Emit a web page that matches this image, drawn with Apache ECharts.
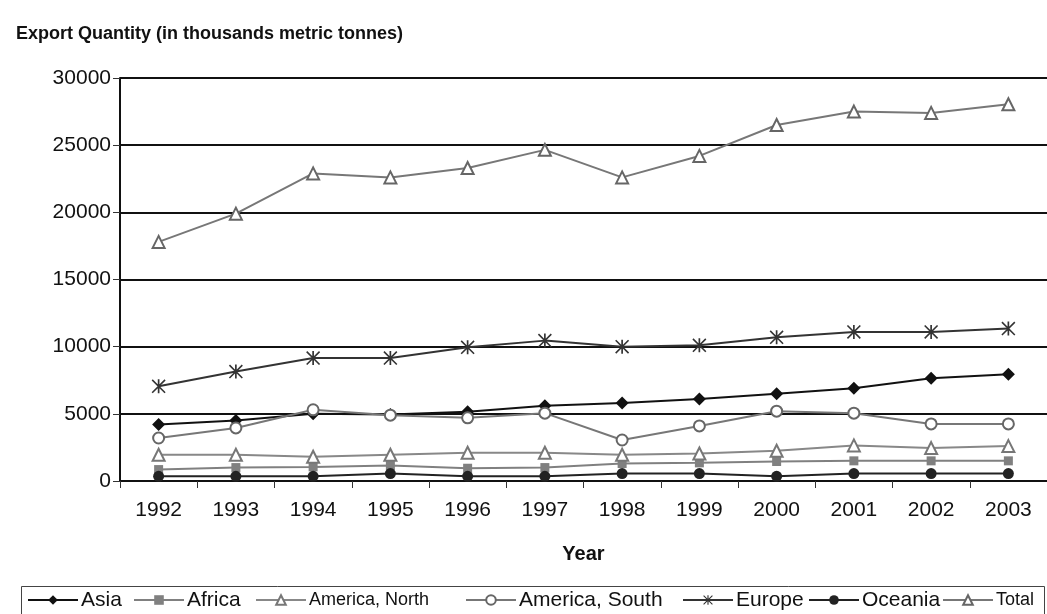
<!DOCTYPE html>
<html>
<head>
<meta charset="utf-8">
<script src="https://cdn.jsdelivr.net/npm/echarts@6/dist/echarts.min.js"></script>
<style>
  html, body { margin:0; padding:0; background:#fff; }
  #main { width:1047px; height:614px; }
</style>
</head>
<body>
<div id="main"></div>
<script>
// 年份（横轴）
var years = ['1992','1993','1994','1995','1996','1997','1998','1999','2000','2001','2002','2003'];

// 各地区出口量（千公吨）
var asia      = [4200, 4500, 5000, 4950, 5150, 5600, 5800, 6100, 6500, 6900, 7650, 7950];
var africa    = [850, 1000, 1050, 1150, 950, 1000, 1300, 1350, 1450, 1500, 1500, 1500];
var amNorth   = [1950, 1950, 1800, 1950, 2100, 2100, 1950, 2050, 2250, 2650, 2450, 2600];
var amSouth   = [3200, 3950, 5300, 4900, 4700, 5050, 3050, 4100, 5200, 5050, 4250, 4250];
var europe    = [7050, 8150, 9150, 9150, 9950, 10450, 10000, 10100, 10700, 11100, 11100, 11350];
var oceania   = [350, 350, 350, 550, 350, 350, 550, 550, 350, 550, 550, 550];
var total     = [17800, 19900, 22900, 22600, 23300, 24650, 22600, 24200, 26500, 27500, 27400, 28050];

var FONT = 'Liberation Sans, Arial, sans-serif';

// 星号标记（用细长多边形拼成）
var asterisk = 'path://M4.4 0 L5.6 0 L5.6 10 L4.4 10 Z M0 0.8 L0.8 0 L10 9.2 L9.2 10 Z M9.2 0 L10 0.8 L0.8 10 L0 9.2 Z';

// 每个图例单独放置，位置与原图对齐
function legendAt(name, left, size) {
    return {
        data: [name],
        left: left,
        top: 601 - size / 2 - 1,
        itemWidth: 50,
        itemHeight: 12,
        itemGap: 0,
        padding: 0,
        textStyle: { fontFamily: FONT, fontSize: size, color: '#111', padding: [0, 0, 0, -2] }
    };
}

var option = {
    backgroundColor: '#fff',
    animation: false,
    title: {
        text: 'Export Quantity (in thousands metric tonnes)',
        left: 11,
        top: 20,
        textStyle: { fontFamily: FONT, fontSize: 18, fontWeight: 'bold', color: '#111' }
    },
    legend: [
        legendAt('Asia', 27, 21),
        legendAt('Africa', 133, 21),
        legendAt('America, North', 255, 18),
        legendAt('America, South', 465, 21),
        legendAt('Europe', 682, 21),
        legendAt('Oceania', 808, 21),
        legendAt('Total', 942, 18)
    ],
    graphic: [{
        type: 'rect',
        shape: { x: 21.5, y: 586.5, width: 1023, height: 40 },
        style: { fill: 'none', stroke: '#444', lineWidth: 1 }
    }],
    grid: { left: 120, top: 78, right: -6, bottom: 133 },
    xAxis: {
        type: 'category',
        data: years,
        boundaryGap: true,
        name: 'Year',
        nameLocation: 'middle',
        nameGap: 63,
        nameTextStyle: { fontFamily: FONT, fontSize: 20, fontWeight: 'bold', color: '#111' },
        axisLine: { lineStyle: { color: '#111', width: 2 } },
        axisTick: { show: true, length: 7, lineStyle: { color: '#333', width: 1 } },
        axisLabel: { fontFamily: FONT, fontSize: 21, color: '#111', margin: 19 }
    },
    yAxis: {
        type: 'value',
        min: 0,
        max: 30000,
        interval: 5000,
        axisLine: { show: true, lineStyle: { color: '#111', width: 2 } },
        axisTick: { show: true, length: 7, lineStyle: { color: '#333', width: 1 } },
        axisLabel: {
            fontFamily: FONT, fontSize: 21, color: '#111', margin: 9,
            formatter: function (v) { return String(v); }
        },
        splitLine: { lineStyle: { color: '#111', width: 2 } }
    },
    series: [
        { name: 'Asia', type: 'line', data: asia, symbol: 'diamond', symbolSize: 13,
          itemStyle: { color: '#111' }, lineStyle: { color: '#111', width: 2 } },
        { name: 'Africa', type: 'line', data: africa, symbol: 'rect', symbolSize: 9,
          itemStyle: { color: '#808080' }, lineStyle: { color: '#808080', width: 2 } },
        { name: 'America, North', type: 'line', data: amNorth, symbol: 'emptyTriangle', symbolSize: 12,
          itemStyle: { color: '#777', borderWidth: 2 }, lineStyle: { color: '#888', width: 2 } },
        { name: 'America, South', type: 'line', data: amSouth, symbol: 'emptyCircle', symbolSize: 11,
          itemStyle: { color: '#666', borderWidth: 2 }, lineStyle: { color: '#777', width: 2 } },
        { name: 'Europe', type: 'line', data: europe, symbol: asterisk, symbolSize: 14,
          itemStyle: { color: '#333' }, lineStyle: { color: '#333', width: 2 } },
        { name: 'Oceania', type: 'line', data: oceania, symbol: 'circle', symbolSize: 11,
          itemStyle: { color: '#222' }, lineStyle: { color: '#222', width: 2 } },
        { name: 'Total', type: 'line', data: total, symbol: 'emptyTriangle', symbolSize: 12,
          itemStyle: { color: '#666', borderWidth: 2 }, lineStyle: { color: '#777', width: 2 } }
    ]
};

var myChart = echarts.init(document.getElementById('main'));
myChart.setOption(option);
</script>
</body>
</html>
